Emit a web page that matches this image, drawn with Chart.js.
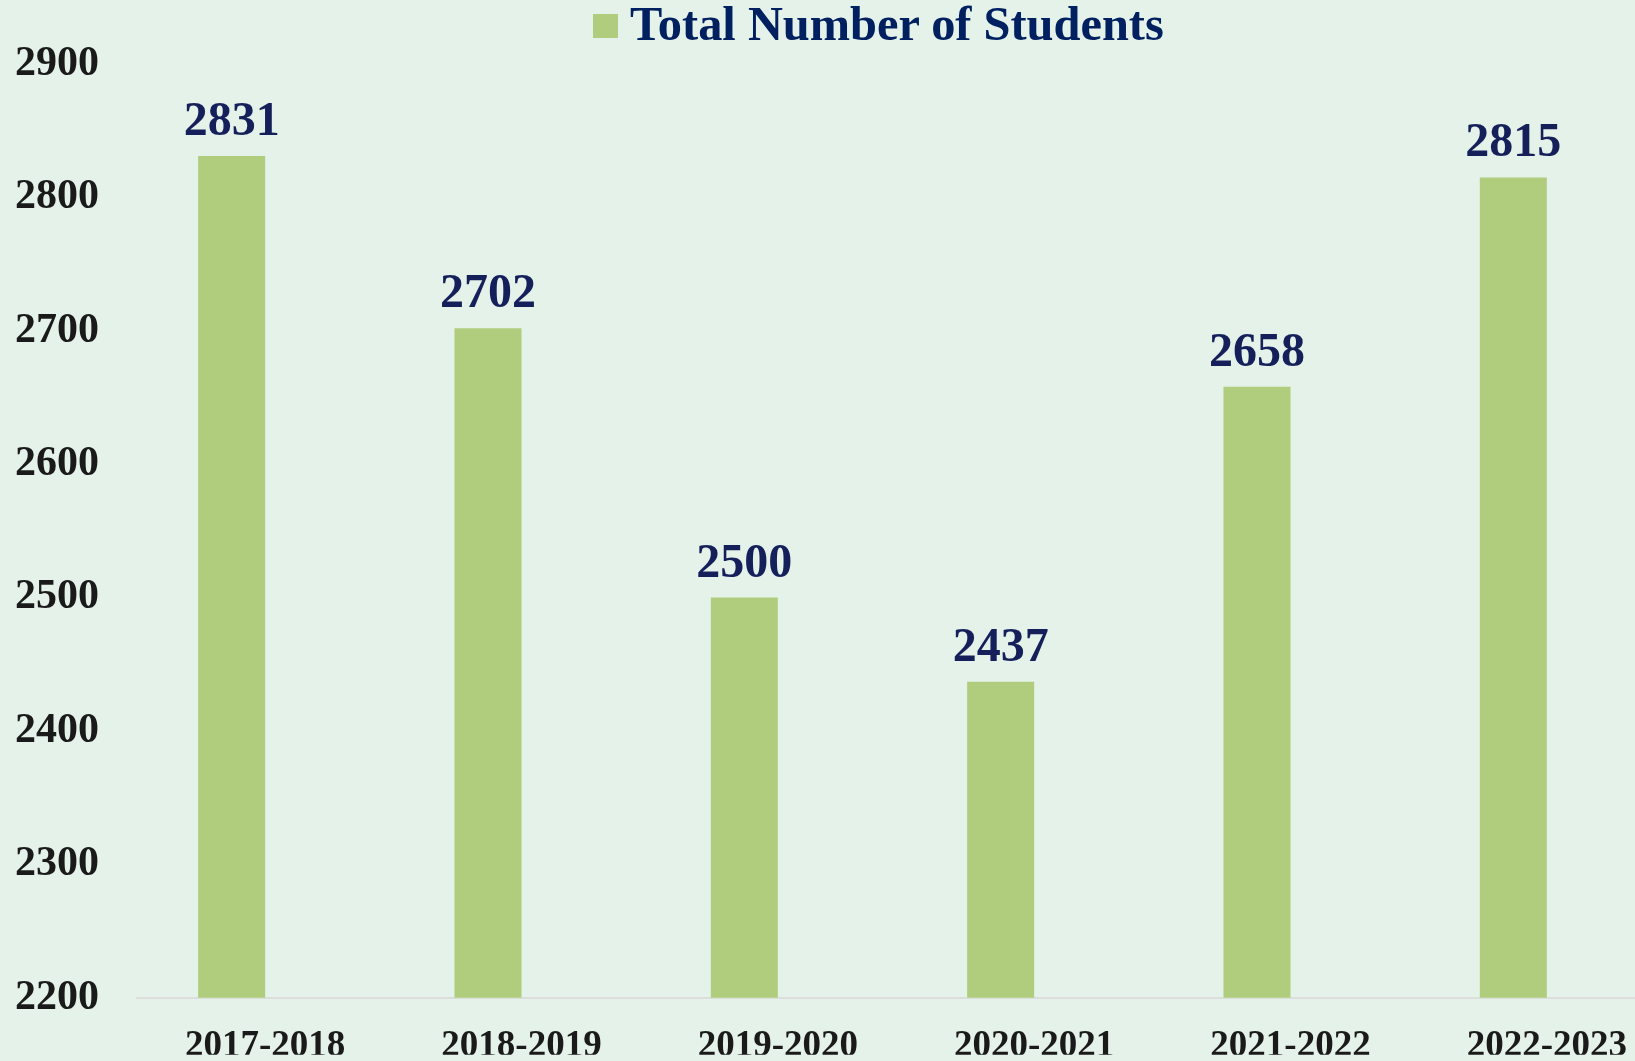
<!DOCTYPE html>
<html>
<head>
<meta charset="utf-8">
<script src="https://cdn.jsdelivr.net/npm/chart.js@4.4.1/dist/chart.umd.min.js"></script>
<style>
    html, body { margin: 0; padding: 0; background: #e5f2e9; overflow: hidden; }
    #wrap { position: relative; width: 1680px; height: 1061px; }
    #legend-wrapper {
        position: absolute; top: 0; left: 593px;
        display: flex; align-items: flex-start;
        height: 48px; line-height: 48px; white-space: nowrap;
        font-family: 'Liberation Serif', 'Times New Roman', serif;
        font-weight: bold; font-size: 48.4px; color: #002060;
    }
    .legend-color { width: 25px; height: 24px; background: #b0cd7e; margin-right: 12px; margin-top: 14px; }
</style>
</head>
<body>
<div id="wrap">
    <canvas id="chart"></canvas>
    <div id="legend-wrapper"></div>
</div>
<script>
// Data
const years = ['2017-2018', '2018-2019', '2019-2020', '2020-2021', '2021-2022', '2022-2023'];
const students = [2831, 2702, 2500, 2437, 2658, 2815];
const emptySeries = [null, null, null, null, null, null]; // second (empty) series, keeps bars left of centre
const yTicks = [2200, 2300, 2400, 2500, 2600, 2700, 2800, 2900];

// Styles
const chartStyles = {
    fontFamily: "'Liberation Serif', 'Times New Roman', serif",
    barColor: '#b0cd7e',
    tickColor: '#1a1a1a',
    valueColor: '#15205a',
    axisColor: '#dcdedc',
    legendLabel: 'Total Number of Students'
};

// Value labels above the bars
const valueLabels = {
    id: 'valueLabels',
    afterDatasetsDraw: (chart) => {
        const ctx = chart.ctx;
        const meta = chart.getDatasetMeta(0);
        ctx.save();
        ctx.font = 'bold 48px ' + chartStyles.fontFamily;
        ctx.fillStyle = chartStyles.valueColor;
        ctx.textAlign = 'center';
        ctx.textBaseline = 'alphabetic';
        meta.data.forEach((bar, i) => {
            ctx.fillText(students[i], bar.x, bar.y - 21);
        });
        ctx.restore();
    }
};

const ctx = document.getElementById('chart');

const config = {
    type: 'bar',
    data: {
        labels: years,
        datasets: [
            {
                label: chartStyles.legendLabel,
                data: students,
                backgroundColor: chartStyles.barColor,
                categoryPercentage: 0.523,
                barPercentage: 1.0
            },
            {
                label: '',
                data: emptySeries,
                backgroundColor: 'rgba(0,0,0,0)',
                categoryPercentage: 0.523,
                barPercentage: 1.0
            }
        ]
    },
    options: {
        responsive: true,
        maintainAspectRatio: false,
        animation: false,
        layout: { padding: { top: 64, right: 5, bottom: 0, left: 0 } },
        plugins: {
            legend: { display: false },
            tooltip: { enabled: false }
        },
        scales: {
            x: {
                grid: { display: false },
                border: { display: true, color: chartStyles.axisColor, width: 2 },
                ticks: {
                    color: chartStyles.tickColor,
                    font: { family: chartStyles.fontFamily, size: 37, weight: 'bold', lineHeight: 1 },
                    padding: 22,
                    maxRotation: 0,
                    autoSkip: false
                },
                afterFit: (axis) => { axis.height = 57; }
            },
            y: {
                min: 2200,
                max: 2900,
                grid: { display: false, drawTicks: false },
                border: { display: false },
                afterBuildTicks: (axis) => { axis.ticks = yTicks.map(v => ({ value: v })); },
                ticks: {
                    color: chartStyles.tickColor,
                    font: { family: chartStyles.fontFamily, size: 42, weight: 'bold' },
                    padding: 38,
                    callback: (value) => String(value)
                },
                afterFit: (axis) => { axis.width = 137; }
            }
        }
    },
    plugins: [valueLabels]
};

const myChart = new Chart(ctx, config);

// Custom legend
const legendContainer = document.getElementById('legend-wrapper');
const colorIndicator = document.createElement('div');
colorIndicator.classList.add('legend-color');
const textBlock = document.createElement('span');
textBlock.textContent = chartStyles.legendLabel;
legendContainer.appendChild(colorIndicator);
legendContainer.appendChild(textBlock);
</script>
</body>
</html>
